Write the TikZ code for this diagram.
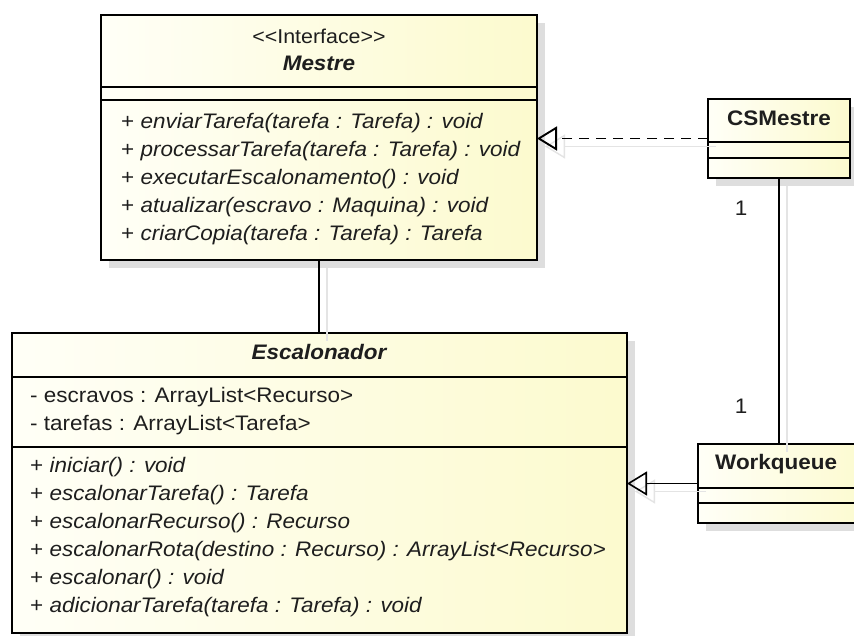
\documentclass[tikz,border=0pt]{standalone}
\usepackage{fontspec}
\setmainfont{Liberation Sans}[FakeStretch=1.07]
\usetikzlibrary{arrows.meta,shadows}
\definecolor{boxlight}{RGB}{255,255,247}
\definecolor{boxdark}{RGB}{252,250,206}
\definecolor{shadowgray}{RGB}{222,222,222}
\definecolor{linkshadow}{RGB}{228,228,228}
\definecolor{ink}{RGB}{30,30,30}

\begin{document}
\begin{tikzpicture}[x=1pt,y=-1pt,
  font=\fontsize{21}{25}\selectfont,
  classbox/.style={draw=black, line width=2.6pt, left color=boxlight, right color=boxdark,
    inner sep=0pt, outer sep=0pt, anchor=north west,
    drop shadow={shadow xshift=8pt, shadow yshift=-8pt, fill=shadowgray, opacity=1}},
  sepline/.style={draw=black, line width=1.6pt},
  link/.style={draw=black, line width=1.6pt},
  realize/.style={-{Triangle[open,length=20pt,width=24pt]}},
  linkshade/.style={draw=linkshadow, line width=1.4pt, transform canvas={xshift=8pt,yshift=-8pt}},
  member/.style={anchor=mid west, inner sep=0pt, text=ink},
  title/.style={anchor=mid, inner sep=0pt, text=ink},
  mult/.style={anchor=mid, inner sep=0pt, text=ink}
]
\fill[white] (0,0) rectangle (854,635);
\path[use as bounding box] (0,0) rectangle (854,635);
\clip (0,0) rectangle (854,635);

% class boxes
\node[classbox, minimum width=436pt, minimum height=245pt] (mestre) at (101,15) {};
\node[classbox, minimum width=142pt, minimum height=79pt] (csm) at (708,99) {};
\node[classbox, minimum width=615pt, minimum height=300pt] (esc) at (12,333) {};
\node[classbox, minimum width=175pt, minimum height=79pt] (wq) at (698,444) {};

% connector shadows
\path[linkshade, realize] (csm.west) -- (mestre.east |- csm.west);
\path[linkshade] (mestre.south) -- (esc.north -| mestre.south);
\path[linkshade] (csm.south) -- (wq.north -| csm.south);
\path[linkshade, realize] (wq.west) -- (esc.east |- wq.west);

% compartments
\draw[sepline] (mestre.west |- 0,87) -- (mestre.east |- 0,87);
\draw[sepline] (mestre.west |- 0,100) -- (mestre.east |- 0,100);
\draw[sepline] (csm.west |- 0,142) -- (csm.east |- 0,142);
\draw[sepline] (csm.west |- 0,158) -- (csm.east |- 0,158);
\draw[sepline] (esc.west |- 0,377) -- (esc.east |- 0,377);
\draw[sepline] (esc.west |- 0,447) -- (esc.east |- 0,447);
\draw[sepline] (wq.west |- 0,488) -- (wq.east |- 0,488);
\draw[sepline] (wq.west |- 0,503) -- (wq.east |- 0,503);

% Mestre
\node[title, font=\fontsize{20}{24}\selectfont] (mestreStereo) at (319,41) {<\kern0pt<Interface>\kern0pt>};
\node[title] (mestreName) at (319,68) {\bfseries\itshape Mestre};
\node[member] (mop1) at (121,126) {+ \textit{enviarTarefa(tarefa : Tarefa) : void}};
\node[member] (mop2) at (121,154) {+ \textit{processarTarefa(tarefa : Tarefa) : void}};
\node[member] (mop3) at (121,182) {+ \textit{executarEscalonamento() : void}};
\node[member] (mop4) at (121,210) {+ \textit{atualizar(escravo : Maquina) : void}};
\node[member] (mop5) at (121,238) {+ \textit{criarCopia(tarefa : Tarefa) : Tarefa}};

% CSMestre
\node[title] (csmName) at (779,123) {\bfseries CSMestre};

% Escalonador
\node[title] (escName) at (319,357) {\bfseries\itshape Escalonador};
\node[member] (eat1) at (30,400) {- escravos : ArrayList<Recurso>};
\node[member] (eat2) at (30,428) {- tarefas : ArrayList<Tarefa>};
\node[member] (eop1) at (30,470) {+ \textit{iniciar() : void}};
\node[member] (eop2) at (30,498) {+ \textit{escalonarTarefa() : Tarefa}};
\node[member] (eop3) at (30,526) {+ \textit{escalonarRecurso() : Recurso}};
\node[member] (eop4) at (30,554) {+ \textit{escalonarRota(destino : Recurso) : ArrayList<Recurso>}};
\node[member] (eop5) at (30,582) {+ \textit{escalonar() : void}};
\node[member] (eop6) at (30,610) {+ \textit{adicionarTarefa(tarefa : Tarefa) : void}};

% Workqueue
\node[member] (wqName) at (715,467) {\bfseries Workqueue};

% connectors
\draw[link, line width=1.9pt, dash pattern=on 10pt off 7pt, realize] (csm.west) -- (mestre.east |- csm.west);
\draw[link] (mestre.south) -- (esc.north -| mestre.south);
\draw[link] (csm.south) -- (wq.north -| csm.south);
\draw[link, realize] (wq.west) -- (esc.east |- wq.west);

% multiplicities
\node[mult] (multTop) at (741,213) {1};
\node[mult] (multBottom) at (741,411) {1};
\end{tikzpicture}
\end{document}
